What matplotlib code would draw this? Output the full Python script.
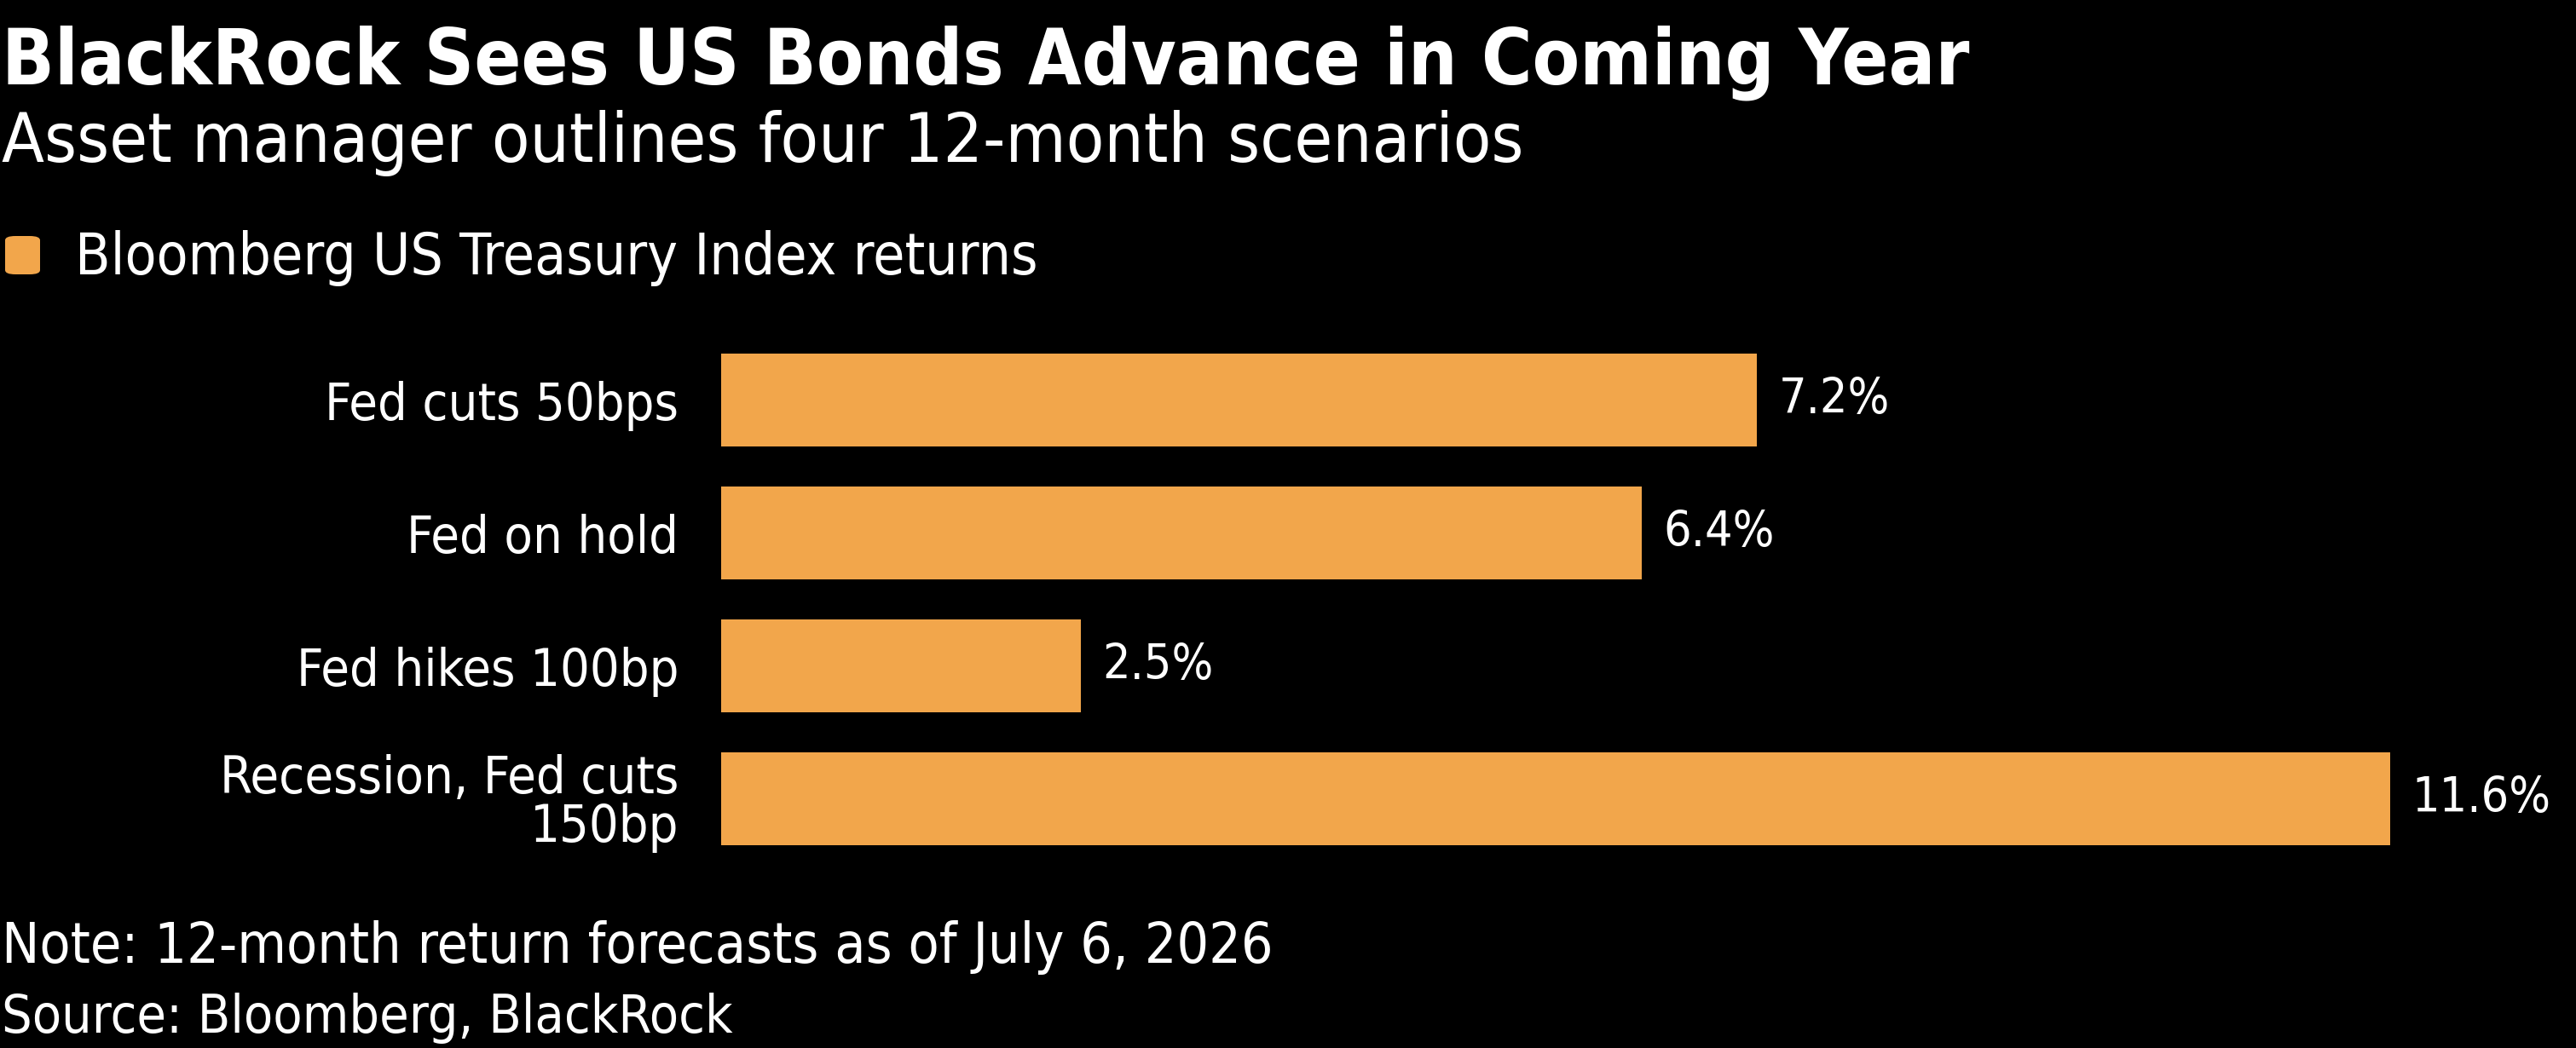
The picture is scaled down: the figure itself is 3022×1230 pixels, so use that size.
import matplotlib
matplotlib.use("Agg")
import matplotlib.pyplot as plt
from matplotlib.patches import FancyBboxPatch

# ---- data ----
categories = ["Fed cuts 50bps", "Fed on hold", "Fed hikes 100bp", "Recession, Fed cuts\n150bp"]
returns = [7.2, 6.4, 2.5, 11.6]
value_labels = ["7.2%", "6.4%", "2.5%", "11.6%"]
series_name = "Bloomberg US Treasury Index returns"
title = "BlackRock Sees US Bonds Advance in Coming Year"
subtitle = "Asset manager outlines four 12-month scenarios"
note = "Note: 12-month return forecasts as of July 6, 2026"
source = "Source: Bloomberg, BlackRock"

# ---- style ----
W, H, DPI = 3022, 1230, 100
BG = "#000000"
BAR = "#F2A64B"
FG = "#FFFFFF"
FAM = "DejaVu Sans"
ST = "condensed"

plt.rcParams["font.family"] = [FAM]

fig = plt.figure(figsize=(W / DPI, H / DPI), dpi=DPI, facecolor=BG)

def fy(py):
    return 1 - py / H

def fx(px):
    return px / W

# axes placement (pixels)
ax_left, ax_right = 846, 2990
ax_top, ax_bot = 391.5, 1015.5
ax = fig.add_axes([fx(ax_left), fy(ax_bot), (ax_right - ax_left) / W, (ax_bot - ax_top) / H])
ax.set_facecolor(BG)
px_per_unit = 168.8
ax.set_xlim(0, (ax_right - ax_left) / px_per_unit)
ax.set_ylim(len(categories) - 0.5, -0.5)

ypos = list(range(len(categories)))
ax.barh(ypos, returns, height=0.70, color=BAR, edgecolor="none")

for y, v, lab in zip(ypos, returns, value_labels):
    ax.annotate(lab, xy=(v, y), xytext=(18, 0), textcoords="offset points",
                ha="left", va="center", color=FG, fontsize=41, family=FAM,
                fontstretch=ST)

ax.set_yticks(ypos)
ax.set_yticklabels(categories, fontsize=44, color=FG, family=FAM, fontstretch=ST,
                   linespacing=0.95)
ax.tick_params(axis="y", length=0, pad=36)
for t in ax.get_yticklabels():
    t.set_multialignment("right")
ax.set_xticks([])
for s in ax.spines.values():
    s.set_visible(False)

# titles
fig.text(fx(2), fy(98), title, fontsize=65, fontweight="bold", color=FG,
         family=FAM, fontstretch=ST, va="baseline", ha="left")
fig.text(fx(2), fy(190), subtitle, fontsize=58.5, color=FG,
         family=FAM, fontstretch=ST, va="baseline", ha="left")

# legend
sq = FancyBboxPatch((fx(6), fy(322)), fx(41), (45) / H,
                    boxstyle="round,pad=0,rounding_size=0.004",
                    transform=fig.transFigure, facecolor=BAR, edgecolor="none")
fig.patches.append(sq)
fig.text(fx(88), fy(322), series_name, fontsize=48.5, color=FG,
         family=FAM, fontstretch=ST, va="baseline", ha="left")

# footnotes
fig.text(fx(2), fy(1130), note, fontsize=47.5, color=FG,
         family=FAM, fontstretch=ST, va="baseline", ha="left")
fig.text(fx(2), fy(1212), source, fontsize=45, color=FG,
         family=FAM, fontstretch=ST, va="baseline", ha="left")

fig.savefig("out.png", dpi=DPI, facecolor=BG)
